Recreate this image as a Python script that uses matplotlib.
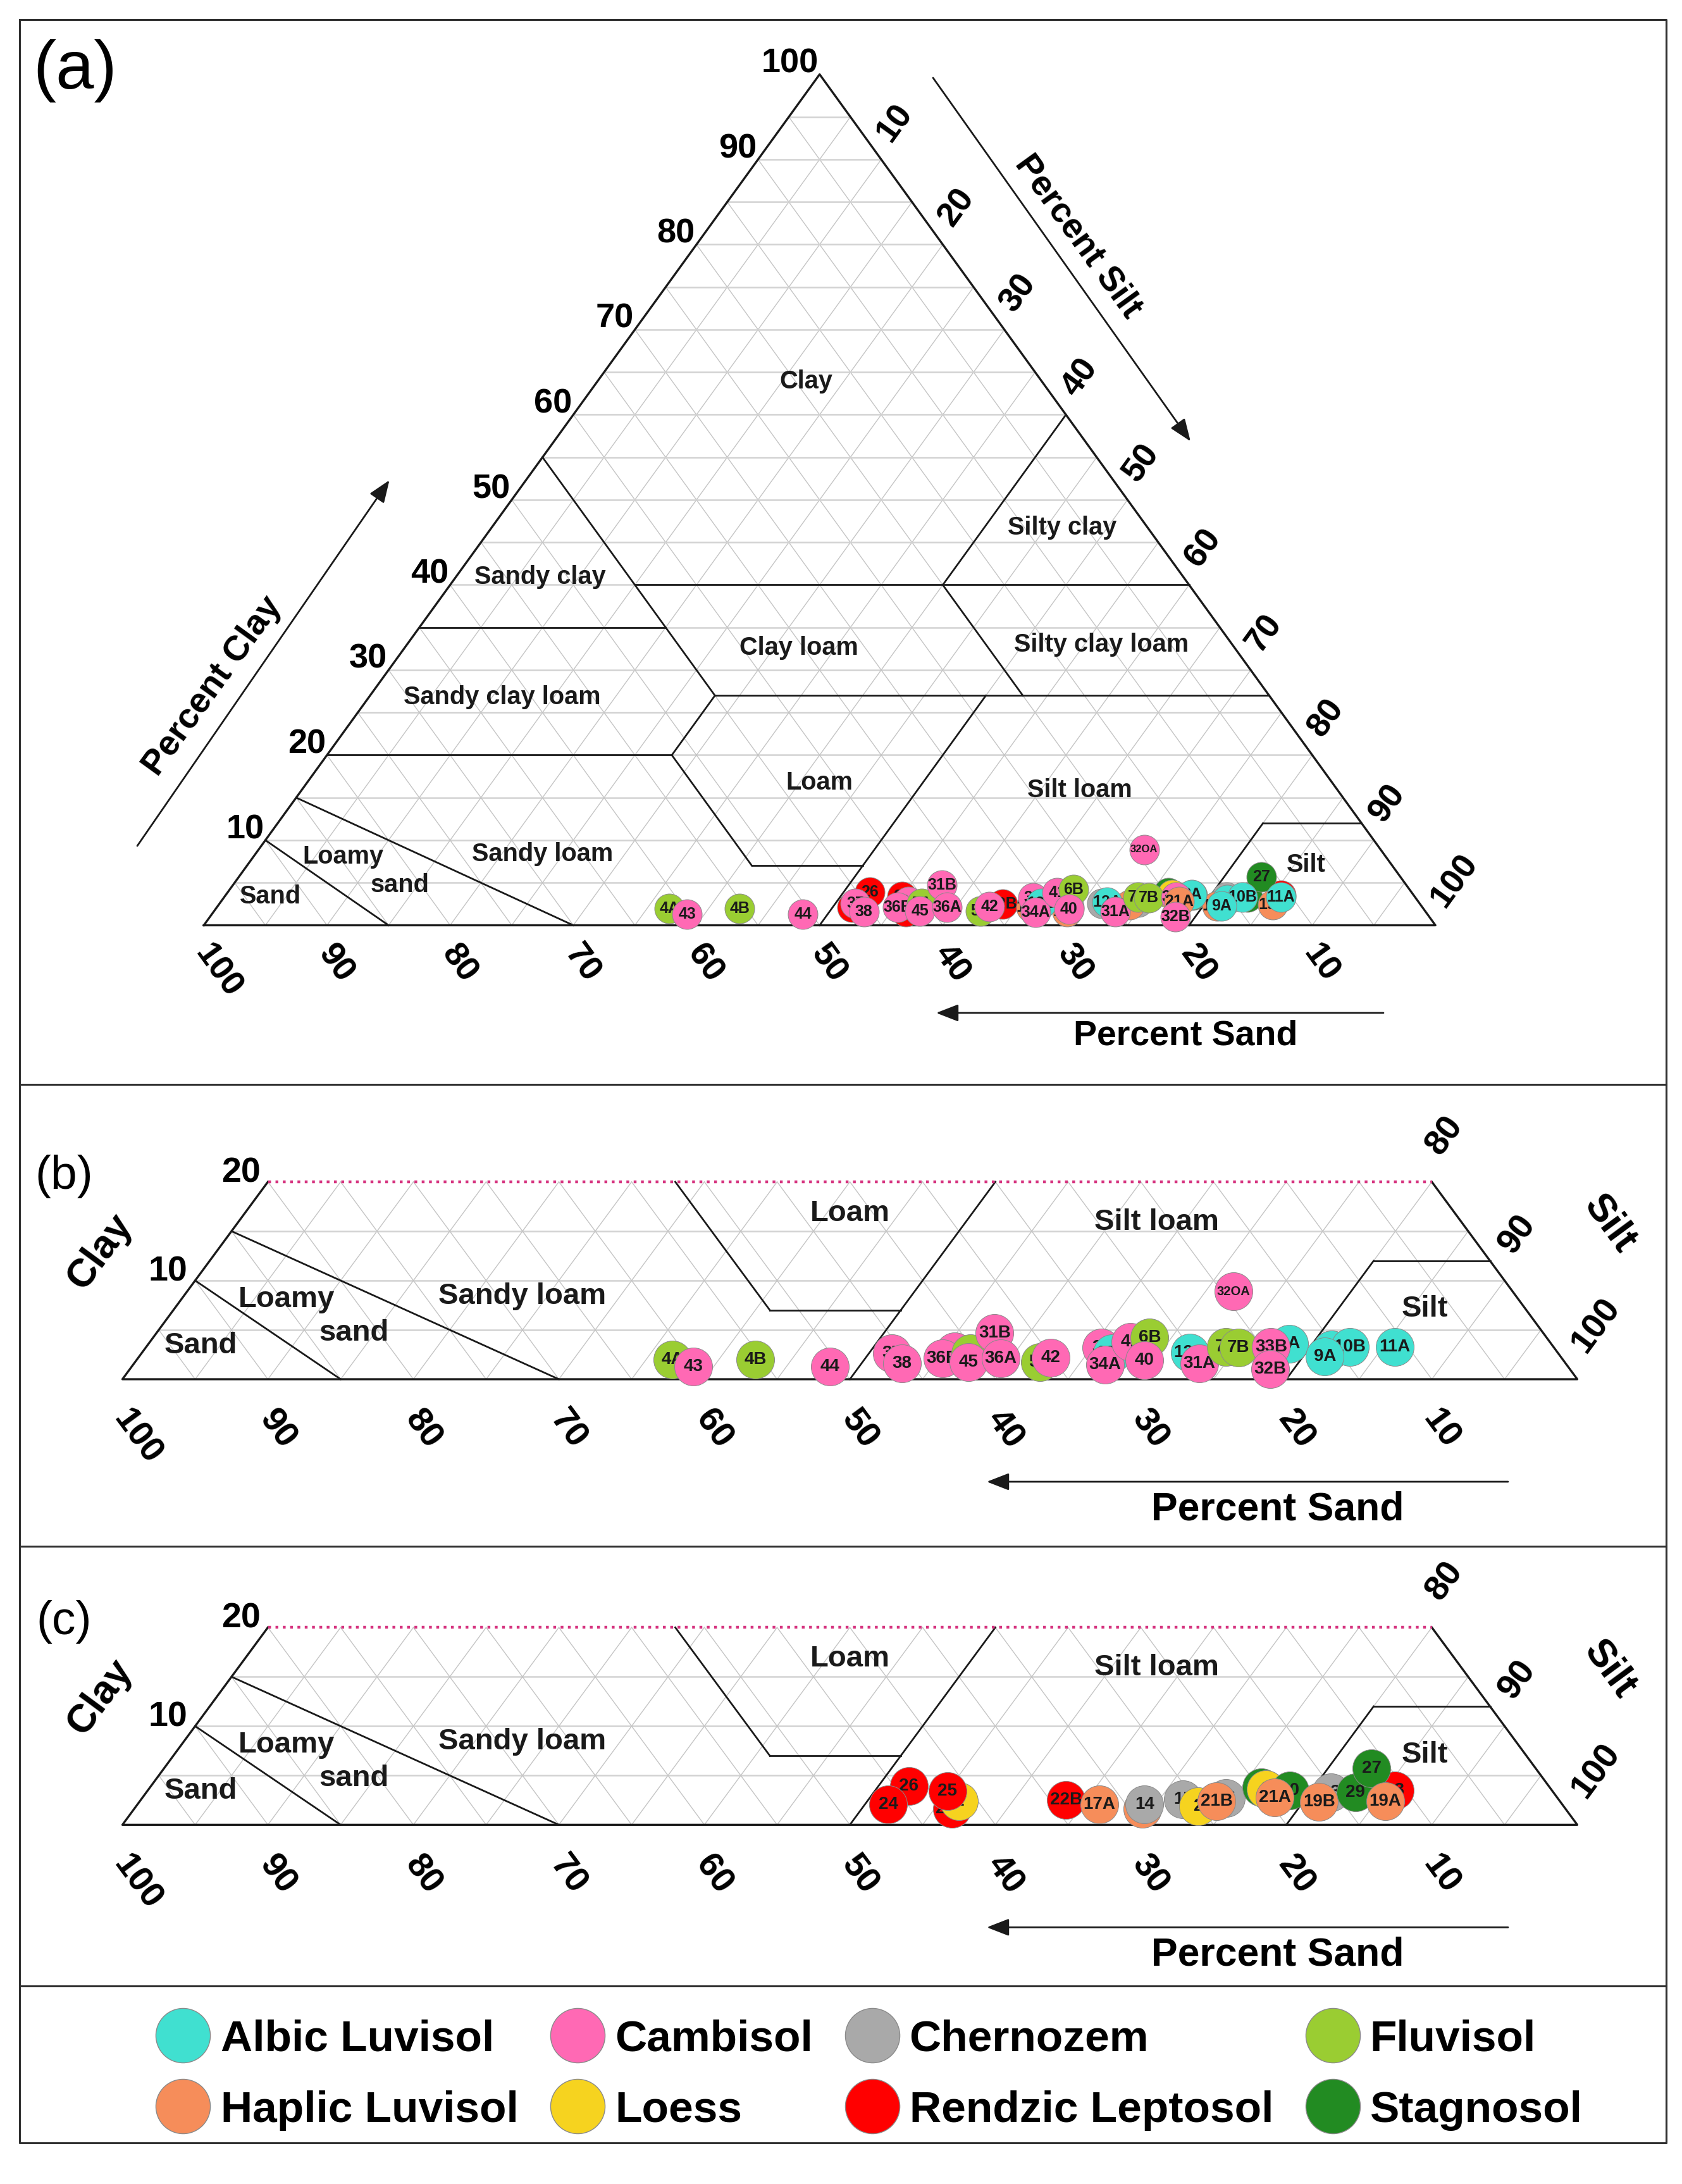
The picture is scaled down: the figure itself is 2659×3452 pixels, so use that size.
import numpy as np
import matplotlib
matplotlib.use('Agg')
import matplotlib.pyplot as plt
from matplotlib.lines import Line2D

plt.rcParams['font.family'] = ['Liberation Sans', 'DejaVu Sans']
plt.rcParams['font.weight'] = 'bold'

W, H, DPI = 2659, 3452, 200

soil_names = ['Albic Luvisol', 'Cambisol', 'Chernozem', 'Fluvisol',
              'Haplic Luvisol', 'Loess', 'Rendzic Leptosol', 'Stagnosol']
soil_colors = ['#40E0D0', '#FF69B4', '#A9A9A9', '#9ACD32',
               '#F68D5A', '#F6D31F', '#FF0000', '#228B22']

# panel (b): Albic Luvisol, Cambisol and Fluvisol samples (drawing order)
b_ids = ['4A', '43', '4B', '44', '37', '38', '39', '36B', '5A', '45', '31B', '36A',
         '5B', '42', '35', '12B', '34A', '41', '6B', '40', '12A', '31A', '7A', '7B',
         '8A', '33B', '32B', '32OA', '9B', '10B', '9A', '11A']
b_soil = ['Fluvisol', 'Cambisol', 'Fluvisol', 'Cambisol', 'Cambisol', 'Cambisol',
          'Cambisol', 'Cambisol', 'Fluvisol', 'Cambisol', 'Cambisol', 'Cambisol',
          'Fluvisol', 'Cambisol', 'Cambisol', 'Albic Luvisol', 'Cambisol', 'Cambisol',
          'Fluvisol', 'Cambisol', 'Albic Luvisol', 'Cambisol', 'Fluvisol', 'Fluvisol',
          'Albic Luvisol', 'Cambisol', 'Cambisol', 'Cambisol', 'Albic Luvisol',
          'Albic Luvisol', 'Albic Luvisol', 'Albic Luvisol']
b_sand = [61.2, 60.1, 55.5, 50.7, 45.8, 45.6, 41.4, 42.6, 40.4, 41.0, 37.7, 38.6,
          36.1, 35.1, 31.1, 30.7, 31.7, 28.8, 27.3, 28.8, 25.3, 25.2, 22.5, 21.7,
          18.0, 19.4, 20.6, 19.2, 15.4, 14.0, 16.2, 10.9]
b_clay = [2.0, 1.3, 2.0, 1.3, 2.6, 1.6, 2.8, 2.1, 2.6, 1.7, 4.7, 2.1,
          1.7, 2.2, 3.2, 2.6, 1.5, 3.8, 4.2, 1.9, 2.7, 1.6, 3.3, 3.2,
          3.6, 3.3, 1.0, 8.9, 3.0, 3.3, 2.3, 3.3]

# panel (c): Chernozem, Haplic Luvisol, Loess, Rendzic Leptosol, Stagnosol
c_ids = ['17B', '14', '26', '24', '22A', '1', '25', '22B', '17A', '15', '16', '2',
         '21B', '28', '3', '30', '21A', '13', '19B', '23', '29', '27', '19A']
c_soil = ['Haplic Luvisol', 'Chernozem', 'Rendzic Leptosol', 'Rendzic Leptosol',
          'Rendzic Leptosol', 'Loess', 'Rendzic Leptosol', 'Rendzic Leptosol',
          'Haplic Luvisol', 'Chernozem', 'Chernozem', 'Loess', 'Haplic Luvisol',
          'Stagnosol', 'Loess', 'Stagnosol', 'Haplic Luvisol', 'Chernozem',
          'Haplic Luvisol', 'Rendzic Leptosol', 'Stagnosol', 'Stagnosol',
          'Haplic Luvisol']
c_sand = [29.1, 28.7, 44.0, 46.3, 42.2, 41.3, 41.6, 33.9, 31.8, 25.8, 22.8, 25.1,
          23.6, 19.8, 19.6, 18.0, 19.4, 15.3, 16.6, 10.8, 13.6, 11.3, 12.0]
c_clay = [1.6, 2.1, 3.9, 2.1, 1.6, 2.4, 3.4, 2.5, 2.1, 2.6, 2.7, 1.9,
          2.4, 3.8, 3.6, 3.5, 2.8, 3.3, 2.3, 3.5, 3.3, 5.7, 2.4]

# samples drawn on top in panel (a)
a_front = ['21A', '32B']

# USDA class boundaries as (sand, clay) pairs
boundaries = [
    [(45, 55), (45, 27)], [(45, 40), (0, 40)], [(0, 60), (20, 40)],
    [(65, 35), (45, 35)], [(45, 27), (0, 27)], [(20, 40), (20, 27)],
    [(80, 20), (52, 20)], [(45, 27), (52, 20)], [(52, 20), (52, 7)],
    [(52, 7), (43, 7)], [(50, 0), (23, 27)], [(20, 0), (8, 12)],
    [(8, 12), (0, 12)], [(85, 15), (70, 0)], [(90, 10), (85, 0)],
]

region_names = ['Clay', 'Silty clay', 'Sandy clay', 'Clay loam', 'Silty clay loam',
                'Sandy clay loam', 'Loam', 'Silt loam', 'Sandy loam', 'Loamy',
                'sand', 'Sand', 'Silt']
region_x = [48.9, 69.7, 27.3, 48.3, 72.9, 24.2, 50.0, 71.1, 27.5, 11.3, 15.9, 5.4, 89.5]
region_y = [63.9, 46.7, 40.9, 32.6, 33.0, 26.8, 16.8, 15.9, 8.4, 8.1, 4.7, 3.4, 7.1]

color_of = dict(zip(soil_names, soil_colors))


def xy(sand, clay):
    sand = np.asarray(sand, float)
    clay = np.asarray(clay, float)
    return 100 - sand - clay / 2, clay


def clip(p, q, cmax):
    (s1, c1), (s2, c2) = p, q
    if c1 > cmax and c2 > cmax:
        return None
    if c1 > cmax:
        t = (cmax - c2) / (c1 - c2)
        s1, c1 = s2 + t * (s1 - s2), cmax
    if c2 > cmax:
        t = (cmax - c1) / (c2 - c1)
        s2, c2 = s1 + t * (s2 - s1), cmax
    return (s1, c1), (s2, c2)


fig = plt.figure(figsize=(W / DPI, H / DPI), dpi=DPI)
bg = fig.add_axes([0, 0, 1, 1])
bg.set_xlim(0, W)
bg.set_ylim(H, 0)
bg.axis('off')

# frame and separators
bg.plot([30.5, 2633.5, 2633.5, 30.5, 30.5], [31, 31, 3387, 3387, 31],
        color='#303030', lw=1.1)
for yy in [1714, 2444, 3139]:
    bg.plot([30.5, 2633.5], [yy, yy], color='#303030', lw=1.1)


def panel_axes(x0, kx, y0, ky, top, bottom):
    ax = fig.add_axes([0, 1 - bottom / H, 1, (bottom - top) / H])
    ax.set_xlim(-x0 / kx, (W - x0) / kx)
    ax.set_ylim((y0 - bottom) / ky, (y0 - top) / ky)
    ax.axis('off')
    return ax


def draw_frame(ax, cmax):
    # grid every 5 %
    for v in range(5, 100, 5):
        if v < cmax:
            ax.plot([v / 2, 100 - v / 2], [v, v], color='#d2d2d2', lw=0.9, zorder=1)
        c1 = min(100 - v, cmax)
        ax.plot([100 - v, 100 - v - c1 / 2], [0, c1], color='#c4c4c4', lw=0.5, zorder=1)
        ax.plot([v, v + c1 / 2], [0, c1], color='#c4c4c4', lw=0.5, zorder=1)
    # class boundaries
    for p, q in boundaries:
        seg = clip(p, q, cmax)
        if seg is None or (seg[0][1] == cmax and seg[1][1] == cmax):
            continue
        xs, ys = xy([seg[0][0], seg[1][0]], [seg[0][1], seg[1][1]])
        ax.plot(xs, ys, color='#1a1a1a', lw=1.0, zorder=2)
    # outline
    if cmax >= 100:
        ax.plot([0, 100, 50, 0], [0, 0, 100, 0], color='#1a1a1a', lw=1.2, zorder=2)
    else:
        ax.plot([cmax / 2, 0, 100, 100 - cmax / 2], [cmax, 0, 0, cmax],
                color='#1a1a1a', lw=1.2, zorder=2)
        ax.plot([cmax / 2, 100 - cmax / 2], [cmax, cmax], color='#d6337f',
                lw=1.6, ls=(0, (1, 1.6)), zorder=2)


def draw_regions(ax, cmax, fs):
    for name, rx, ry in zip(region_names, region_x, region_y):
        if ry < cmax:
            ax.text(rx, ry, name, fontsize=fs, ha='center', va='center',
                    color='#1a1a1a', zorder=3)


def draw_points(ax, ids, soils, sands, clays, size, fs, fs_small):
    xs, ys = xy(sands, clays)
    for i, (lab, soil) in enumerate(zip(ids, soils)):
        ax.scatter(xs[i], ys[i], s=size, color=color_of[soil], edgecolors='#8a8a8a',
                   linewidths=0.35, zorder=10 + 2 * i)
        ax.text(xs[i], ys[i], lab, fontsize=fs_small if len(lab) > 3 else fs,
                ha='center', va='center', color='#1a1a1a', zorder=11 + 2 * i)


def tick_labels(ax, clay_t, silt_t, sand_t, ang, fs, silt_off, sand_off, clay_off):
    for c in clay_t:
        ax.annotate(str(c), xy=(c / 2, c), xytext=clay_off, textcoords='offset pixels',
                    ha='right', va='bottom', fontsize=fs, zorder=3)
    for s in silt_t:
        ax.annotate(str(s), xy=(s + (100 - s) / 2, 100 - s), xytext=silt_off,
                    textcoords='offset pixels', ha='left', va='center', fontsize=fs,
                    rotation=ang, rotation_mode='anchor', zorder=3)
    for v in sand_t:
        ax.annotate(str(v), xy=(100 - v, 0), xytext=sand_off,
                    textcoords='offset pixels', ha='left', va='center', fontsize=fs,
                    rotation=-ang, rotation_mode='anchor', zorder=3)


def arrow(x1, y1, x2, y2):
    bg.annotate('', xy=(x2, y2), xytext=(x1, y1),
                arrowprops=dict(arrowstyle='-|>,head_length=0.9,head_width=0.35',
                                color='#1a1a1a', lw=1.0, mutation_scale=12,
                                shrinkA=0, shrinkB=0))


# ---------------- panel (a)
kxa, kya = 19.47, 13.45
axa = panel_axes(322.2, kxa, 1462.5, kya, 31, 1714)
ang_a = np.degrees(np.arctan(2 * kya / kxa))
draw_frame(axa, 100)
draw_regions(axa, 100, 14.3)
tick_labels(axa, range(10, 101, 10), range(10, 101, 10), range(100, 0, -10), ang_a,
            19.5, (4, 34), (-4, -36), (-2, -8))

a_ids = c_ids + b_ids
a_soil = c_soil + b_soil
a_sand = c_sand + b_sand
a_clay = c_clay + b_clay
order = [i for i in range(len(a_ids)) if a_ids[i] not in a_front] + \
        [a_ids.index(k) for k in a_front]
draw_points(axa, [a_ids[i] for i in order], [a_soil[i] for i in order],
            [a_sand[i] for i in order], [a_clay[i] for i in order], 286, 9, 6)

bg.text(118.7, 111.6, '(a)', fontsize=39, fontweight='normal', ha='center', va='center')
bg.text(336, 1085, 'Percent Clay', fontsize=20, rotation=ang_a, ha='center', va='center')
arrow(217, 1337, 615.6, 759)
bg.text(1704, 374, 'Percent Silt', fontsize=20, rotation=-ang_a, ha='center', va='center')
arrow(1475, 123, 1882, 697.5)
bg.text(1874, 1637, 'Percent Sand', fontsize=20, ha='center', va='center')
arrow(2187, 1601, 1480, 1601)

# ---------------- panels (b) and (c)
kxb, kyb = 23.0, 15.6
ang_b = np.degrees(np.arctan(2 * kyb / kxb))
panels = [('(b)', 1714, 2444, 2180.0, b_ids, b_soil, b_sand, b_clay),
          ('(c)', 2444, 3139, 2884.3, c_ids, c_soil, c_sand, c_clay)]
for letter, top, bottom, y0, ids, soils, sands, clays in panels:
    ax = panel_axes(193.5, kxb, y0, kyb, top, bottom)
    draw_frame(ax, 20)
    draw_regions(ax, 20, 17)
    tick_labels(ax, [10, 20], [80, 90, 100], range(100, 0, -10), ang_b,
                20, (2, 48), (-4, -54), (-12, -12))
    draw_points(ax, ids, soils, sands, clays, 467, 10, 7.3)
    dy = y0 - 2180.0
    bg.text(101, 1859 + dy, letter, fontsize=27, fontweight='normal',
            ha='center', va='center')
    bg.text(158, 1978 + dy, 'Clay', fontsize=22.5, rotation=ang_b, ha='center', va='center')
    bg.text(2545, 1934 + dy, 'Silt', fontsize=22.5, rotation=-ang_b, ha='center', va='center')
    bg.text(2020, 2386 + dy, 'Percent Sand', fontsize=22.5, ha='center', va='center')
    arrow(2384, 2342 + dy, 1560, 2342 + dy)

# ---------------- legend
handles = [Line2D([], [], ls='none', marker='o', ms=31, mfc=c, mec='#8a8a8a', mew=0.5)
           for c in soil_colors]
leg_order = [0, 4, 1, 5, 2, 6, 3, 7]
fig.legend([handles[i] for i in leg_order], [soil_names[i] for i in leg_order],
           ncol=4, loc='center', bbox_to_anchor=(0.517, 0.050), frameon=False,
           prop=dict(size=25, weight='bold'), handlelength=1.2, handletextpad=0.25,
           columnspacing=0.75, labelspacing=0.7)

fig.savefig('out.png', dpi=DPI)
